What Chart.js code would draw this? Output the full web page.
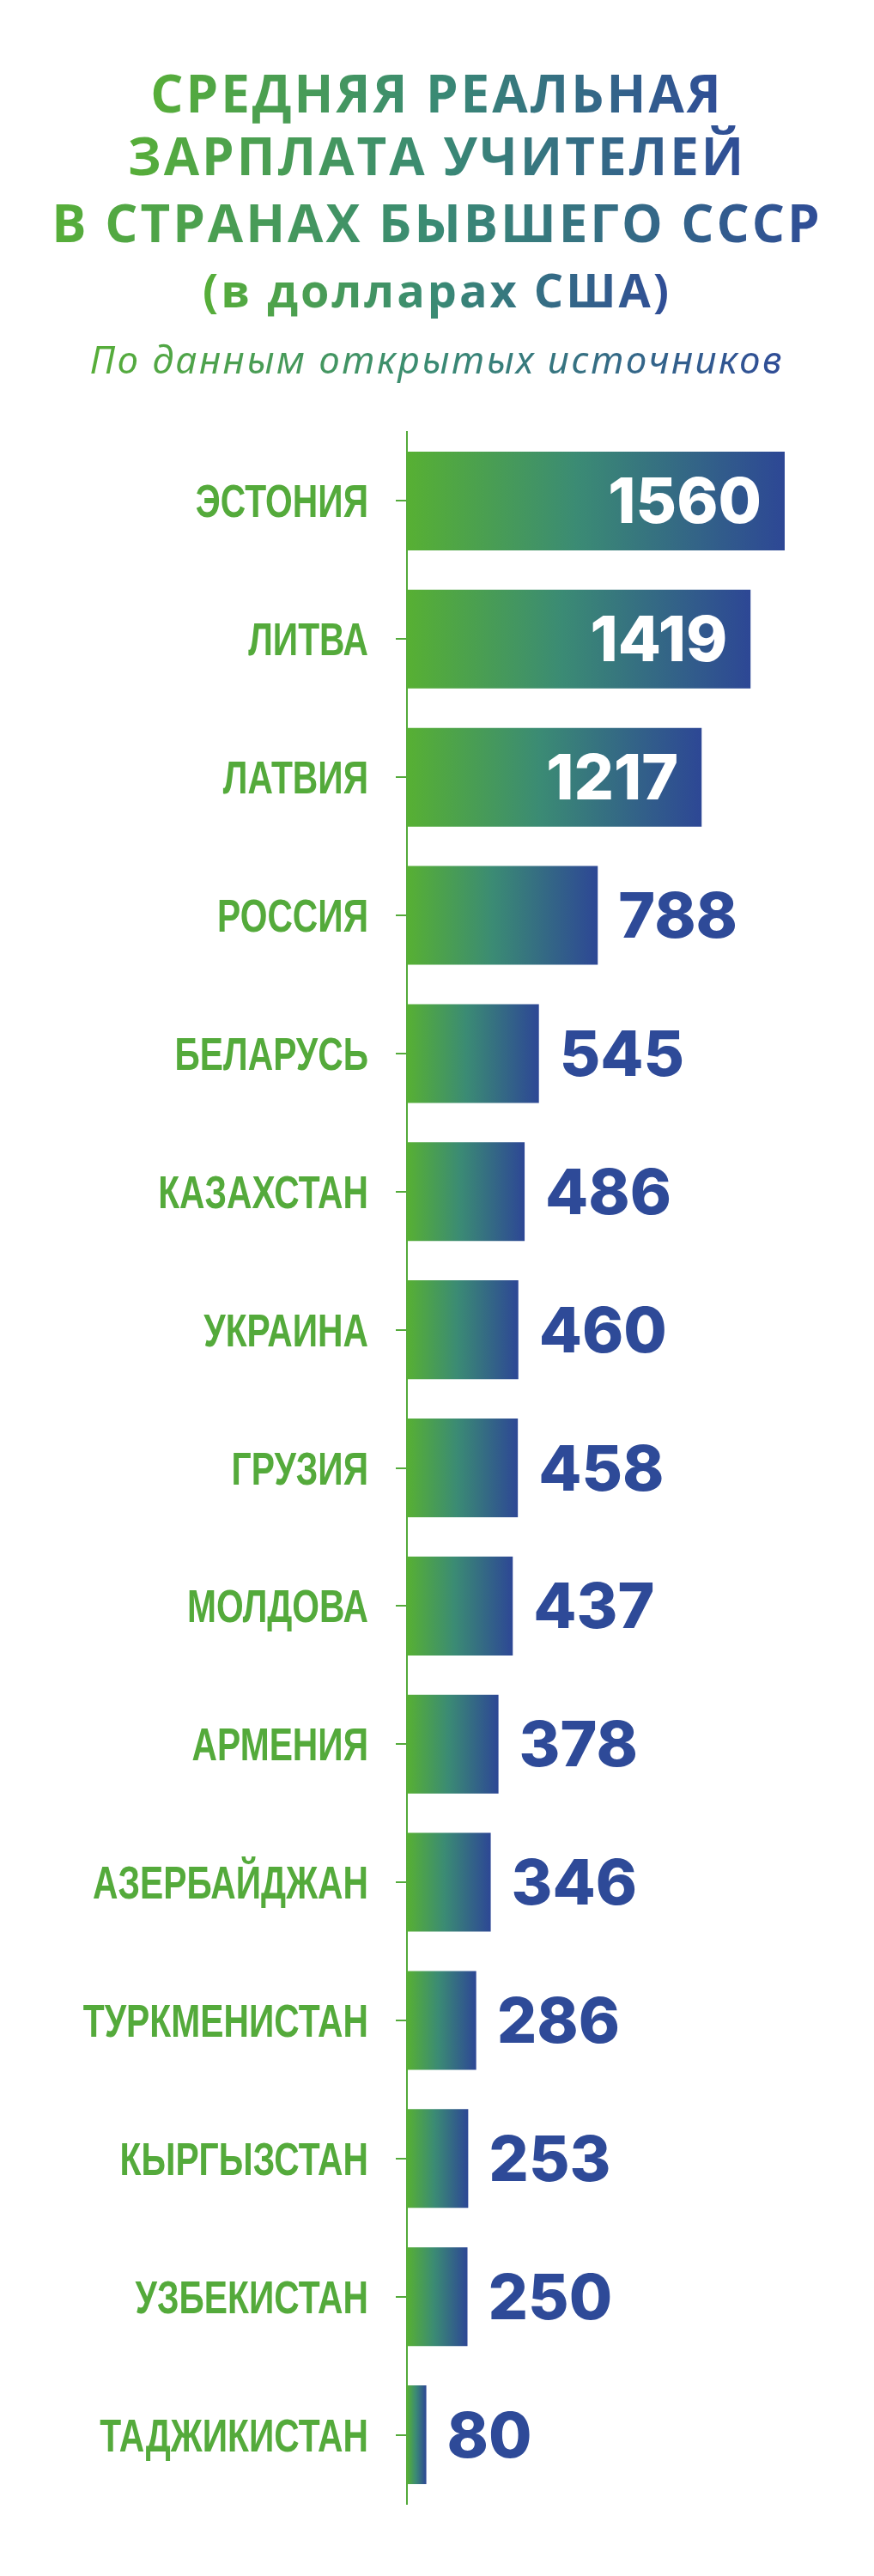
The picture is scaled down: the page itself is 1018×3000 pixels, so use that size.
<!DOCTYPE html>
<html lang="ru">
<head>
<meta charset="utf-8">
<title>Средняя реальная зарплата учителей</title>
<script src="https://cdn.jsdelivr.net/npm/chart.js@4.4.1/dist/chart.umd.min.js"></script>
<style>
  html, body { margin: 0; padding: 0; background: #fff; }
  #page { position: relative; width: 1018px; height: 3000px; overflow: hidden; }
  .line {
    position: absolute; left: 0; width: 1018px; text-align: center;
    white-space: nowrap;
  }
  .line span {
    display: inline-block;
    background: linear-gradient(90deg, #57ae38 0%, #3a8a74 50%, #2f4c97 100%);
    -webkit-background-clip: text; background-clip: text;
    color: transparent;
  }
  .head { font-family: 'Open Sans', 'Noto Sans', sans-serif; font-weight: 700; font-size: 60px; line-height: 78px; letter-spacing: 3px; }
  .sub { font-family: 'Noto Sans', 'Open Sans', sans-serif; font-style: italic; font-weight: 400; font-size: 44px; line-height: 60px; letter-spacing: 2.5px; }
  #chartBox { position: absolute; left: 0; top: 470px; width: 1018px; height: 2480px; }
</style>
</head>
<body>
<div id="page">
  <div class="line head" style="top:69px"><span>СРЕДНЯЯ РЕАЛЬНАЯ</span></div>
  <div class="line head" style="top:142px"><span>ЗАРПЛАТА УЧИТЕЛЕЙ</span></div>
  <div class="line head" style="top:220px"><span>В СТРАНАХ БЫВШЕГО СССР</span></div>
  <div class="line head" style="top:298px; font-size:54px"><span>(в долларах США)</span></div>
  <div class="line sub" style="top:388px"><span>По данным открытых источников</span></div>
  <div id="chartBox"><canvas id="salaryChart"></canvas></div>
</div>
<script>
const countries = ['ЭСТОНИЯ', 'ЛИТВА', 'ЛАТВИЯ', 'РОССИЯ', 'БЕЛАРУСЬ', 'КАЗАХСТАН', 'УКРАИНА', 'ГРУЗИЯ',
    'МОЛДОВА', 'АРМЕНИЯ', 'АЗЕРБАЙДЖАН', 'ТУРКМЕНИСТАН', 'КЫРГЫЗСТАН', 'УЗБЕКИСТАН', 'ТАДЖИКИСТАН'];
const salaries = [1560, 1419, 1217, 788, 545, 486, 460, 458, 437, 378, 346, 286, 253, 250, 80];

const GREEN = '#54aa3b';
const BLUE = '#2e4a98';

// per bar gradient, green at the axis -> blue at the bar end
function barGradient(ctx) {
    const chart = ctx.chart;
    if (!chart.chartArea) return GREEN;
    const x0 = chart.scales.x.getPixelForValue(0);
    const x1 = chart.scales.x.getPixelForValue(ctx.raw);
    const g = chart.ctx.createLinearGradient(x0, 0, Math.max(x1, x0 + 1), 0);
    g.addColorStop(0, '#57b033');
    g.addColorStop(0.45, '#3b8b74');
    g.addColorStop(1, '#2d4795');
    return g;
}

// condensed country names next to the y ticks
const countryLabels = {
    id: 'countryLabels',
    afterDraw(chart) {
        const ctx = chart.ctx;
        const y = chart.scales.y;
        const right = chart.chartArea.left - 13 - 32;
        ctx.save();
        ctx.font = "bold 53px 'Liberation Sans', Arial, sans-serif";
        ctx.fillStyle = GREEN;
        ctx.textAlign = 'right';
        ctx.textBaseline = 'alphabetic';
        countries.forEach((name, i) => {
            const py = y.getPixelForTick(i);
            ctx.save();
            ctx.translate(right, py + 19);
            ctx.scale(0.77, 1);
            ctx.fillText(name, 0, 0);
            ctx.restore();
        });
        ctx.restore();
    }
};

const valueLabels = {
    id: 'valueLabels',
    afterDatasetsDraw(chart) {
        const ctx = chart.ctx;
        const meta = chart.getDatasetMeta(0);
        ctx.save();
        ctx.font = "800 73px Inter, 'Liberation Sans', sans-serif";
        ctx.textBaseline = 'alphabetic';
        meta.data.forEach((bar, i) => {
            const inside = (bar.x - bar.base) > 300;
            ctx.fillStyle = inside ? '#ffffff' : BLUE;
            ctx.textAlign = inside ? 'right' : 'left';
            ctx.fillText(String(salaries[i]), inside ? bar.x - 27 : bar.x + 24, bar.y + 26);
        });
        ctx.restore();
    }
};

new Chart(document.getElementById('salaryChart'), {
    type: 'bar',
    data: {
        labels: countries,
        datasets: [{ data: salaries, backgroundColor: barGradient, barPercentage: 0.715, categoryPercentage: 1 }]
    },
    options: {
        indexAxis: 'y',
        responsive: true, maintainAspectRatio: false,
        animation: false,
        layout: { padding: { top: 33, bottom: 34, left: 0, right: 18 } },
        scales: {
            x: { display: false, min: 0, max: 1865 },
            y: {
                afterFit: (scale) => { scale.width = 474; },
                border: { display: true, color: GREEN, width: 2 },
                grid: { offset: false, drawOnChartArea: false, drawTicks: true, tickLength: 13, tickColor: GREEN, lineWidth: 2 },
                ticks: { display: false }
            }
        },
        plugins: { legend: { display: false }, tooltip: { enabled: false } }
    },
    plugins: [valueLabels, countryLabels]
});
</script>
</body>
</html>
